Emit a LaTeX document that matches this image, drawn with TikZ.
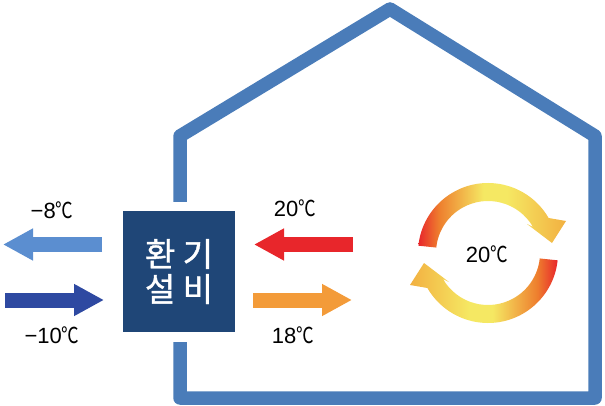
\documentclass[tikz,border=0pt]{standalone}
\usepackage{fontspec}
\usepackage{graphicx}
\setmainfont{Liberation Sans}
\newfontfamily\cjk{Noto Sans CJK KR}
\newfontfamily\cjkunit[FakeBold=1.2]{Noto Sans CJK KR}
\usetikzlibrary{arrows.meta,calc}

\definecolor{wallblue}{HTML}{4A7CB9}
\definecolor{unitblue}{HTML}{1F4677}
\definecolor{exhaustblue}{HTML}{5B8ED0}
\definecolor{intakeblue}{HTML}{2E49A1}
\definecolor{returnred}{HTML}{E8262B}
\definecolor{supplyorange}{HTML}{F39B39}
\definecolor{ringred}{HTML}{E8262B}
\definecolor{ringmid}{HTML}{EE7F2E}
\definecolor{ringyellow}{HTML}{F5E863}
\definecolor{ringorange}{HTML}{F2B041}

\pgfdeclarehorizontalshading{upperring}{100bp}{color(0bp)=(ringred);
  color(25bp)=(ringred); color(32bp)=(ringmid); color(47bp)=(ringyellow);
  color(55bp)=(ringyellow); color(75bp)=(ringorange); color(100bp)=(ringorange)}
\pgfdeclarehorizontalshading{lowerring}{100bp}{color(0bp)=(ringorange);
  color(25bp)=(ringorange); color(45bp)=(ringyellow); color(53bp)=(ringyellow);
  color(68bp)=(ringmid); color(75bp)=(ringred); color(100bp)=(ringred)}

\newcommand{\dgc}{\scalebox{.8}[1]{\cjk ℃}}

\begin{document}
\begin{tikzpicture}[x=1pt,y=-1pt,
    wall/.style={draw=wallblue, line width=13.5pt, line join=round},
    flow/.style={line width=15pt, -{Triangle[length=30pt,width=30pt]}},
    temp/.style={font=\fontsize{22}{24}\selectfont, inner sep=0pt}]
  \useasboundingbox (0,0) rectangle (605,406);
  % house
  \draw [wall] (180,202) -- (180,136) -- (390,9) -- (595,136)
    -- (595,398) -- (180,398) -- (180,342);
  \node [fill=unitblue, minimum width=112pt, minimum height=121pt,
    text=white, align=center, font=\cjkunit\fontsize{33}{35}\selectfont]
    at (179,271.5) (hrv) {환 기\\설 비};
  % outdoor side
  \coordinate (exhaustTail) at (102,244.5);
  \coordinate (exhaustTip) at (3,244.5);
  \coordinate (intakeTail) at (5,300);
  \coordinate (intakeTip) at (104,300);
  \draw [flow, draw=exhaustblue] (exhaustTail) -- (exhaustTip);
  \draw [flow, draw=intakeblue] (intakeTail) -- (intakeTip);
  \node [temp] at (52,210) (tExhaust) {−8\dgc};
  \node [temp] at (52,335) (tIntake) {−10\dgc};
  % indoor side
  \coordinate (returnTail) at (353,244.5);
  \coordinate (returnTip) at (254,244.5);
  \coordinate (supplyTail) at (253,300);
  \coordinate (supplyTip) at (352,300);
  \draw [flow, draw=returnred] (returnTail) -- (returnTip);
  \draw [flow, draw=supplyorange] (supplyTail) -- (supplyTip);
  \node [temp] at (295,208.5) (tReturn) {20\dgc};
  \node [temp] at (293,335) (tSupply) {18\dgc};
  % room air
  \coordinate (ring) at (488,253);
  \shade [shading=upperring]
    ($(ring)+(186:70)$) arc [start angle=186, end angle=330, radius=70]
    -- (566,221) -- (552,243) -- (527,224)
    -- ($(ring)+(330:52)$) arc [start angle=330, end angle=186, radius=52] -- cycle;
  \shade [shading=lowerring]
    ($(ring)+(6:70)$) arc [start angle=6, end angle=150, radius=70]
    -- (410,285) -- (424,263) -- (449,282)
    -- ($(ring)+(150:52)$) arc [start angle=150, end angle=6, radius=52] -- cycle;
  \node [temp] at (487,254.5) (tRoom) {20\dgc};
\end{tikzpicture}
\end{document}
